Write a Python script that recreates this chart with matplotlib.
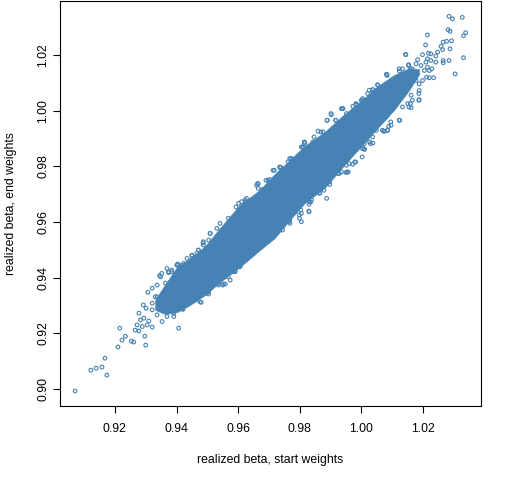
import numpy as np
import matplotlib
matplotlib.use("Agg")
import matplotlib.pyplot as plt

plt.rcParams['font.family'] = ['Liberation Sans', 'DejaVu Sans']

# dense core of the cloud (solid where the circles overlap completely)
core_x = [0.9331, 0.9364, 0.9402, 0.9444, 0.9493, 0.9541, 0.9605, 0.9670, 0.9718,
          0.9767, 0.9815, 0.9880, 0.9944, 1.0009, 1.0057, 1.0105, 1.0154, 1.0186]
core_lo = [0.9284, 0.9269, 0.9276, 0.9302, 0.9338, 0.9384, 0.9438, 0.9499, 0.9542,
           0.9607, 0.9668, 0.9722, 0.9805, 0.9885, 0.9944, 1.0002, 1.0074, 1.0130]
core_hi = [0.9320, 0.9377, 0.9438, 0.9470, 0.9513, 0.9578, 0.9661, 0.9715, 0.9772,
           0.9822, 0.9873, 0.9923, 0.9987, 1.0045, 1.0092, 1.0128, 1.0153, 1.0150]

# single points
tail_lo_x = [0.9071, 0.9122, 0.9139, 0.9158, 0.9168, 0.9174, 0.9210, 0.9216, 0.9223, 0.9234,
             0.9253, 0.9261, 0.9297, 0.9300, 0.9266, 0.9278, 0.9272, 0.9289, 0.9305, 0.9321,
             0.9283, 0.9294, 0.9310, 0.9278, 0.9292, 0.9301, 0.9321, 0.9307, 0.9321, 0.9337,
             0.9345, 0.9352, 0.9407, 0.9353, 0.9369, 0.9391, 0.9337, 0.9358, 0.9421, 0.9434,
             0.9461, 0.9480, 0.9498, 0.9536, 0.9550, 0.9574, 0.9584, 0.9606, 0.9622, 0.9649,
             0.9369, 0.9402, 0.9450, 0.9466, 0.9487, 0.9337, 0.9321]
tail_lo_y = [0.8992, 0.9067, 0.9074, 0.9078, 0.9110, 0.9049, 0.9150, 0.9218, 0.9175, 0.9189,
             0.9171, 0.9168, 0.9189, 0.9157, 0.9211, 0.9208, 0.9230, 0.9224, 0.9230, 0.9222,
             0.9248, 0.9254, 0.9244, 0.9272, 0.9302, 0.9290, 0.9284, 0.9347, 0.9308, 0.9331,
             0.9407, 0.9415, 0.9218, 0.9242, 0.9260, 0.9260, 0.9266, 0.9278, 0.9286, 0.9302,
             0.9320, 0.9311, 0.9344, 0.9379, 0.9373, 0.9391, 0.9421, 0.9439, 0.9463, 0.9487,
             0.9433, 0.9445, 0.9481, 0.9487, 0.9517, 0.9373, 0.9362]

upper_x = [0.9348, 0.9374, 0.9385, 0.9404, 0.9418, 0.9434, 0.9471, 0.9486, 0.9504, 0.9509,
           0.9531, 0.9541, 0.9568, 0.9601, 0.9612, 0.9625,
           0.9593, 0.9622, 0.9660, 0.9665, 0.9681, 0.9703, 0.9717, 0.9735, 0.9762, 0.9773,
           0.9810, 0.9816, 0.9843, 0.9859, 0.9875, 0.9888, 0.9902, 0.9916, 0.9938, 0.9951,
           0.9983, 0.9999, 1.0015, 1.0037,
           0.9889, 0.9868, 0.9846, 0.9814, 0.9809, 0.9771, 0.9738, 0.9690, 0.9663]
upper_y = [0.9403, 0.9421, 0.9427, 0.9449, 0.9445, 0.9469, 0.9499, 0.9525, 0.9535, 0.9559,
           0.9577, 0.9595, 0.9613, 0.9667, 0.9649, 0.9672,
           0.9654, 0.9679, 0.9732, 0.9738, 0.9717, 0.9753, 0.9786, 0.9796, 0.9816, 0.9828,
           0.9868, 0.9884, 0.9888, 0.9927, 0.9924, 0.9966, 0.9986, 0.9966, 1.0008, 0.9990,
           1.0020, 1.0038, 1.0038, 1.0067,
           0.9966, 0.9924, 0.9906, 0.9886, 0.9870, 0.9828, 0.9796, 0.9750, 0.9738]

lower_x = [0.9358, 0.9391, 0.9418, 0.9504, 0.9558, 0.9552, 0.9590, 0.9631, 0.9638, 0.9676,
           0.9692,
           0.9735, 0.9768, 0.9805, 0.9830, 0.9830, 0.9838, 0.9864, 0.9897, 0.9918, 0.9935,
           0.9953, 0.9951, 0.9978, 1.0002, 1.0010, 1.0026, 1.0037, 1.0048,
           1.0124, 1.0096, 1.0085, 1.0074, 1.0080,
           1.0029, 1.0072, 1.0088, 1.0008, 0.9981, 0.9957, 0.9925, 0.9972, 0.9887, 0.9878,
           0.9835, 0.9803, 0.9798, 0.9765, 0.9744, 0.9733]
lower_y = [0.9302, 0.9272, 0.9290, 0.9341, 0.9377, 0.9401, 0.9424, 0.9469, 0.9493, 0.9513,
           0.9535,
           0.9577, 0.9595, 0.9601, 0.9637, 0.9664, 0.9679, 0.9705, 0.9735, 0.9780, 0.9780,
           0.9780, 0.9804, 0.9816, 0.9834, 0.9861, 0.9888, 0.9884, 0.9930,
           0.9966, 0.9948, 0.9930, 0.9926, 0.9978,
           0.9882, 0.9927, 0.9944, 0.9864, 0.9816, 0.9780, 0.9774, 0.9808, 0.9685, 0.9714,
           0.9672, 0.9643, 0.9625, 0.9601, 0.9571, 0.9589]

edge_x = [0.9374, 0.9385, 0.9401, 0.9423, 0.9450, 0.9471, 0.9487, 0.9509, 0.9364, 0.9369,
          0.9331, 0.9461, 0.9476, 0.9418, 0.9487, 0.9504, 0.9536, 0.9552, 0.9568, 0.9590,
          0.9606, 0.9627,
          0.9665, 0.9676, 0.9697, 0.9713, 0.9735, 0.9767, 0.9773, 0.9805, 0.9815, 0.9611,
          0.9627, 0.9713, 0.9735, 0.9729, 0.9767, 0.9799, 0.9805, 0.9831, 0.9829, 0.9864,
          0.9896, 0.9928, 0.9950, 0.9950, 0.9960,
          0.9901, 0.9917, 0.9935, 0.9982, 1.0003, 1.0025, 1.0036, 1.0052, 1.0081, 1.0122,
          1.0143, 1.0152, 1.0159, 1.0122, 1.0095, 1.0068, 1.0084, 1.0036, 1.0009, 1.0003,
          1.0154, 1.0186, 1.0165, 1.0186, 1.0159]
edge_y = [0.9418, 0.9421, 0.9445, 0.9451, 0.9478, 0.9499, 0.9529, 0.9559, 0.9380, 0.9349,
          0.9331, 0.9320, 0.9313, 0.9287, 0.9344, 0.9349, 0.9373, 0.9377, 0.9403, 0.9421,
          0.9445, 0.9487,
          0.9721, 0.9715, 0.9750, 0.9786, 0.9798, 0.9828, 0.9816, 0.9870, 0.9888, 0.9673,
          0.9685, 0.9571, 0.9577, 0.9601, 0.9607, 0.9613, 0.9631, 0.9673, 0.9639, 0.9703,
          0.9744, 0.9775, 0.9778, 0.9828, 0.9810,
          0.9990, 0.9966, 1.0008, 1.0026, 1.0038, 1.0074, 1.0076, 1.0094, 1.0131, 1.0151,
          1.0203, 1.0163, 1.0151, 0.9966, 0.9960, 0.9930, 0.9930, 0.9906, 0.9882, 0.9864,
          1.0014, 1.0038, 1.0038, 1.0062, 1.0026]

tail_hi_x = [1.0284, 1.0295, 1.0327, 1.0281, 1.0287, 1.0338, 1.0331, 1.0214, 1.0208, 1.0265,
             1.0276, 1.0292, 1.0258, 1.0287, 1.0263, 1.0247, 1.0241, 1.0225, 1.0217, 1.0198,
             1.0144, 1.0225, 1.0241, 1.0265, 1.0265, 1.0284, 1.0331, 1.0304, 1.0214, 1.0209,
             1.0182, 1.0177, 1.0193, 1.0153, 1.0214, 1.0220, 1.0204, 1.0211, 1.0228, 1.0234,
             1.0220, 1.0198, 1.0187, 1.0187, 1.0187, 1.0161, 1.0150, 1.0133, 1.0123, 1.0164,
             1.0171, 1.0177,
             1.0133, 1.0161, 1.0142, 1.0082, 1.0053, 1.0037, 1.0048, 1.0020, 1.0004, 0.9983,
             0.9972, 0.9940, 1.0083]
tail_hi_y = [1.0340, 1.0331, 1.0336, 1.0292, 1.0286, 1.0281, 1.0270, 1.0273, 1.0237, 1.0247,
             1.0250, 1.0252, 1.0232, 1.0223, 1.0220, 1.0211, 1.0197, 1.0205, 1.0207, 1.0202,
             1.0202, 1.0181, 1.0175, 1.0181, 1.0173, 1.0181, 1.0191, 1.0133, 1.0187, 1.0175,
             1.0184, 1.0169, 1.0163, 1.0166, 1.0157, 1.0145, 1.0145, 1.0121, 1.0151, 1.0119,
             1.0119, 1.0109, 1.0097, 1.0073, 1.0040, 1.0011, 1.0026, 1.0151, 1.0143, 1.0151,
             1.0127, 1.0109,
             1.0014, 1.0056, 1.0073, 1.0131, 1.0091, 1.0076, 1.0073, 1.0062, 1.0044, 1.0023,
             1.0016, 1.0008, 1.0127]

x_ticks = [0.92, 0.94, 0.96, 0.98, 1.00, 1.02]
y_ticks = [0.90, 0.92, 0.94, 0.96, 0.98, 1.00, 1.02]

col = 'steelblue'

pts_x = np.array(tail_lo_x + upper_x + lower_x + edge_x + tail_hi_x)
pts_y = np.array(tail_lo_y + upper_y + lower_y + edge_y + tail_hi_y)

fig = plt.figure(figsize=(5.12, 4.8), dpi=100)
ax = fig.add_axes([59.5 / 512, 74 / 480, 421.8 / 512, 404.7 / 480])

ax.fill_between(core_x, core_lo, core_hi, color=col, linewidth=0.5, zorder=2)
ax.scatter(pts_x, pts_y, s=7, facecolors='none', edgecolors=col,
           linewidths=0.8, zorder=3)

# R style 4% padding around the data range
all_x = np.concatenate([pts_x, core_x])
all_y = np.concatenate([pts_y, core_lo, core_hi])
px = 0.04 * (all_x.max() - all_x.min())
py = 0.04 * (all_y.max() - all_y.min())
ax.set_xlim(all_x.min() - px, all_x.max() + px)
ax.set_ylim(all_y.min() - py, all_y.max() + py)

ax.set_xticks(x_ticks)
ax.set_yticks(y_ticks)
ax.set_xticklabels([f"{v:.2f}" for v in x_ticks])
ax.set_yticklabels([f"{v:.2f}" for v in y_ticks], rotation=90, va='center')
ax.tick_params(axis='both', length=5, width=0.8, labelsize=8.8, colors='black')
ax.tick_params(axis='x', pad=7.5)
ax.tick_params(axis='y', pad=2.5)
for sp in ax.spines.values():
    sp.set_linewidth(0.8)

fig.text(270.4 / 512, 1 - 460 / 480, "realized beta, start weights",
         ha='center', va='center', fontsize=8.8)
fig.text(11 / 512, 1 - 203.7 / 480, "realized beta, end weights",
         ha='center', va='center', rotation=90, fontsize=8.8)

fig.savefig("out.png", dpi=100)
